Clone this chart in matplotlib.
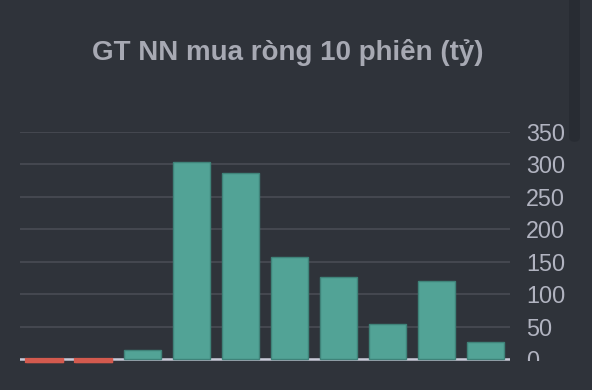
import matplotlib.pyplot as plt
from matplotlib.patches import Rectangle, FancyBboxPatch

# GT NN mua ròng 10 phiên (tỷ)
sessions = list(range(10))
values = [-4, -4, 14, 303, 286, 157, 127, 54, 120, 26]
yticks = [0, 50, 100, 150, 200, 250, 300, 350]

BG = "#2f333a"
POS = "#52a396"
POS_EDGE = "#3f8379"
NEG = "#d35a4e"
GRID = "#474a52"
TEXT = "#b1b3c0"

plt.rcParams["font.family"] = ["Liberation Sans", "DejaVu Sans"]

W, H = 592, 390
fig = plt.figure(figsize=(W / 100, H / 100), dpi=100)
fig.patch.set_facecolor(BG)

# plot area: x 20..510 px, y 350 -> 131.7 px, 0 -> 359 px
ymin, ymax = -10, 350
px_per = (359 - 131.7) / 350
bottom_px = 359 + (0 - ymin) * px_per
ax = fig.add_axes([20 / W, (H - bottom_px) / H, 490 / W, (bottom_px - 131.7) / H])
ax.set_facecolor(BG)

colors = [NEG if v < 0 else POS for v in values]
edges = [NEG if v < 0 else POS_EDGE for v in values]
ax.bar(sessions, values, width=0.74, color=colors, edgecolor=edges,
       linewidth=1.0, zorder=3)
ax.axhline(0, color="#c8c9d7", linewidth=1.8, zorder=2)
for i, v in enumerate(values):
    if v < 0:
        ax.bar(i, v, width=0.74, color=NEG, edgecolor=NEG, linewidth=1.6, zorder=4)

ax.set_xlim(-0.5, 9.5)
ax.set_ylim(ymin, ymax)
ax.set_yticks(yticks)
ax.set_xticks([])
ax.yaxis.tick_right()
ax.tick_params(axis="y", length=0, pad=11.5, labelsize=16.8, labelcolor=TEXT)
for t in ax.get_yticklabels():
    t.set_horizontalalignment("left")
ax.grid(axis="y", color=GRID, linewidth=1.3, zorder=1)
for s in ax.spines.values():
    s.set_visible(False)

fig.text(288 / W, 1 - 53 / H, "GT NN mua ròng 10 phiên (tỷ)", ha="center",
         va="center", fontsize=20, fontweight="bold", color="#a7a9b3")

# bottom of view cuts the "0" label
fig.patches.append(Rectangle((512 / W, 0), 55 / W, 29 / H, transform=fig.transFigure,
                             facecolor=BG, edgecolor="none", zorder=10))
# scrollbar thumb
fig.patches.append(FancyBboxPatch((569 / W, (H - 142) / H), 11 / W, 160 / H,
                                  boxstyle="round,pad=0,rounding_size=0.012",
                                  transform=fig.transFigure, facecolor="#282c33",
                                  edgecolor="none", zorder=10))

fig.savefig("out.png", dpi=100, facecolor=BG)
